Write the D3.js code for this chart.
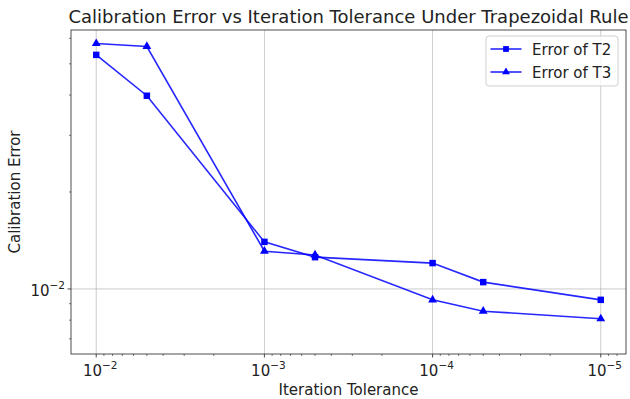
<!DOCTYPE html>
<html>
<head>
<meta charset="utf-8">
<script src="https://cdn.jsdelivr.net/npm/d3@7"></script>
<style>
  body { margin: 0; background: #fff; }
  svg { font-family: "DejaVu Sans", sans-serif; }
</style>
</head>
<body>
<div id="chart"></div>
<script>
const tolerances = [1e-2, 5e-3, 1e-3, 5e-4, 1e-4, 5e-5, 1e-5];
const errT2 = [0.0533, 0.0398, 0.0140, 0.01255, 0.01203, 0.01050, 0.00925];
const errT3 = [0.0578, 0.0566, 0.0131, 0.01275, 0.00925, 0.00853, 0.00808];
const xTicks = [1e-2, 1e-3, 1e-4, 1e-5];
const yTicks = [1e-2];

const width = 630, height = 399;
const margin = { left: 71, right: 4, top: 30, bottom: 45 };

const svg = d3.select("#chart").append("svg").attr("width", width).attr("height", height);

// reversed log x, 5% margins in log space
const x = d3.scaleLog().domain([10 ** (-2 + 0.15), 10 ** (-5 - 0.15)]).range([margin.left, width - margin.right]);
const y = d3.scaleLog().domain([10 ** -2.202, 10 ** -1.196]).range([height - margin.bottom, margin.top]);

const x0 = margin.left, x1 = width - margin.right, y0 = height - margin.bottom, y1 = margin.top;

// grid
svg.append("g").selectAll("line").data(xTicks).enter().append("line")
  .attr("x1", (d) => x(d)).attr("x2", (d) => x(d)).attr("y1", y0).attr("y2", y1)
  .attr("stroke", "#b0b0b0").attr("stroke-width", 0.8).attr("opacity", 0.8);
svg.append("g").selectAll("line").data(yTicks).enter().append("line")
  .attr("x1", x0).attr("x2", x1).attr("y1", (d) => y(d)).attr("y2", (d) => y(d))
  .attr("stroke", "#b0b0b0").attr("stroke-width", 0.8).attr("opacity", 0.8);

// minor ticks
const xMinor = [];
for (let e = -6; e <= -2; e++) for (let m = 2; m <= 9; m++) {
  const v = m * 10 ** e;
  if (v < x.domain()[0] && v > x.domain()[1]) xMinor.push(v);
}
const yMinor = [];
for (let e = -3; e <= -1; e++) for (let m = 2; m <= 9; m++) {
  const v = m * 10 ** e;
  if (v > y.domain()[0] && v < y.domain()[1]) yMinor.push(v);
}

const axisColor = "#222";
svg.append("g").selectAll("line").data(xMinor).enter().append("line")
  .attr("x1", (d) => x(d)).attr("x2", (d) => x(d)).attr("y1", y0).attr("y2", y0 + 2)
  .attr("stroke", axisColor).attr("stroke-width", 0.6);
svg.append("g").selectAll("line").data(xTicks).enter().append("line")
  .attr("x1", (d) => x(d)).attr("x2", (d) => x(d)).attr("y1", y0).attr("y2", y0 + 3.5)
  .attr("stroke", axisColor).attr("stroke-width", 0.8);
svg.append("g").selectAll("line").data(yMinor).enter().append("line")
  .attr("x1", x0 - 2).attr("x2", x0).attr("y1", (d) => y(d)).attr("y2", (d) => y(d))
  .attr("stroke", axisColor).attr("stroke-width", 0.6);
svg.append("g").selectAll("line").data(yTicks).enter().append("line")
  .attr("x1", x0 - 3.5).attr("x2", x0).attr("y1", (d) => y(d)).attr("y2", (d) => y(d))
  .attr("stroke", axisColor).attr("stroke-width", 0.8);

// tick labels
const expLabel = (sel, d) => {
  const e = Math.round(Math.log10(d));
  sel.append("tspan").text("10");
  sel.append("tspan").attr("dy", -7).attr("font-size", 10.5).text("\u2212" + Math.abs(e));
};
svg.append("g").selectAll("text").data(xTicks).enter().append("text")
  .attr("x", (d) => x(d) + 4).attr("y", y0 + 22).attr("text-anchor", "middle")
  .attr("font-size", 15).attr("fill", "#222")
  .each(function (d) { expLabel(d3.select(this), d); });
svg.append("g").selectAll("text").data(yTicks).enter().append("text")
  .attr("x", x0 - 6).attr("y", (d) => y(d) + 7).attr("text-anchor", "end")
  .attr("font-size", 15).attr("fill", "#222")
  .each(function (d) { expLabel(d3.select(this), d); });

// lines
const line = d3.line().x((d) => x(d[0])).y((d) => y(d[1]));
const seriesList = [
  { name: "Error of T2", vals: errT2, marker: d3.symbolSquare, size: 42 },
  { name: "Error of T3", vals: errT3, marker: d3.symbolTriangle, size: 34 }
];
seriesList.forEach((s) => {
  const pts = tolerances.map((t, i) => [t, s.vals[i]]);
  svg.append("path").datum(pts).attr("d", line)
    .attr("fill", "none").attr("stroke", "blue").attr("stroke-width", 1.6).attr("stroke-opacity", 0.85);
  svg.append("g").selectAll("path").data(pts).enter().append("path")
    .attr("d", d3.symbol().type(s.marker).size(s.size))
    .attr("transform", (d) => `translate(${x(d[0])},${y(d[1])})`)
    .attr("fill", "blue");
});

// frame
svg.append("rect").attr("x", x0).attr("y", y1).attr("width", x1 - x0).attr("height", y0 - y1)
  .attr("fill", "none").attr("stroke", axisColor).attr("stroke-width", 0.8);

// legend
const lg = svg.append("g").attr("transform", "translate(486,36)");
lg.append("rect").attr("width", 132).attr("height", 50).attr("rx", 3)
  .attr("fill", "#fff").attr("fill-opacity", 0.8).attr("stroke", "#d0d0d0");
seriesList.forEach((s, i) => {
  const yy = 13 + i * 23;
  lg.append("line").attr("x1", 4.5).attr("x2", 35.5).attr("y1", yy).attr("y2", yy)
    .attr("stroke", "blue").attr("stroke-width", 1.6).attr("stroke-opacity", 0.85);
  lg.append("path").attr("d", d3.symbol().type(s.marker).size(s.size * 0.8)).attr("transform", `translate(20,${yy})`).attr("fill", "blue");
  lg.append("text").attr("x", 46).attr("y", yy + 5.5).attr("font-size", 15).attr("fill", "#222").text(s.name);
});

// titles
svg.append("text").attr("x", (x0 + x1) / 2).attr("y", 23).attr("text-anchor", "middle")
  .attr("font-size", 18).attr("fill", "#222").text("Calibration Error vs Iteration Tolerance Under Trapezoidal Rule");
svg.append("text").attr("x", (x0 + x1) / 2).attr("y", 395).attr("text-anchor", "middle")
  .attr("font-size", 15).attr("fill", "#222").text("Iteration Tolerance");
svg.append("text").attr("transform", `translate(20,${(y0 + y1) / 2}) rotate(-90)`).attr("text-anchor", "middle")
  .attr("font-size", 15).attr("fill", "#222").text("Calibration Error");
</script>
</body>
</html>
